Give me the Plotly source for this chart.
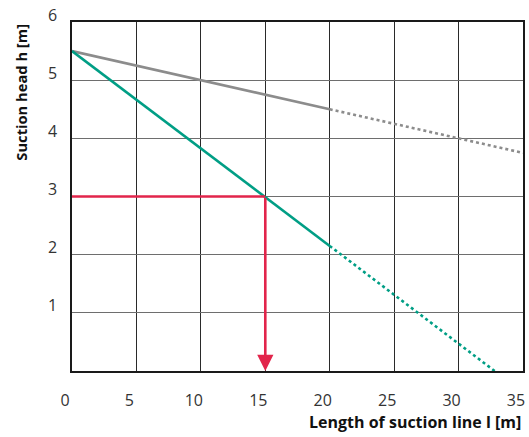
import plotly.graph_objects as go

# Data
grey_solid_len = [0, 20]
grey_solid_head = [5.5, 4.5]
grey_dot_len = [20, 35]
grey_dot_head = [4.5, 3.75]

green_solid_len = [0, 20]
green_solid_head = [5.5, 2.15]
green_dot_len = [20, 32.8]
green_dot_head = [2.15, 0]

reading_len = 15.0
reading_head = 3.0

x_ticks = [0, 5, 10, 15, 20, 25, 30, 35]
y_ticks = [1, 2, 3, 4, 5, 6]

GREY = "#8c8c8c"
GREEN = "#009e85"
RED = "#e2254b"
FONT = "Open Sans"

fig = go.Figure()

fig.add_trace(go.Scatter(x=grey_solid_len, y=grey_solid_head, mode="lines",
                         line=dict(color=GREY, width=2.6), hoverinfo="skip"))
fig.add_trace(go.Scatter(x=grey_dot_len, y=grey_dot_head, mode="lines",
                         line=dict(color=GREY, width=2.6, dash="dot"), hoverinfo="skip"))
fig.add_trace(go.Scatter(x=green_solid_len, y=green_solid_head, mode="lines",
                         line=dict(color=GREEN, width=2.6), hoverinfo="skip"))
fig.add_trace(go.Scatter(x=green_dot_len, y=green_dot_head, mode="lines",
                         line=dict(color=GREEN, width=2.6, dash="dot"), hoverinfo="skip"))
fig.add_trace(go.Scatter(x=[0, reading_len], y=[reading_head, reading_head], mode="lines",
                         line=dict(color=RED, width=2.6), hoverinfo="skip"))

fig.add_annotation(x=reading_len, y=0, ax=reading_len, ay=reading_head,
                   xref="x", yref="y", axref="x", ayref="y",
                   text="", showarrow=True, arrowhead=2, arrowsize=1.25,
                   arrowwidth=2.6, arrowcolor=RED, standoff=0)

fig.add_annotation(text="<b>Suction head h [m]</b>", textangle=-90,
                   xref="paper", yref="paper", x=-0.115, y=1.0,
                   xanchor="center", yanchor="top", showarrow=False,
                   font=dict(family=FONT, size=14.7, color="#111"))
fig.add_annotation(text="<b>Length of suction line l [m]</b>",
                   xref="paper", yref="paper", x=1.0, y=-0.146,
                   xanchor="right", yanchor="middle", showarrow=False,
                   font=dict(family=FONT, size=16, color="#111"))

fig.update_xaxes(range=[0, 35], tickvals=x_ticks, ticktext=[str(v) for v in x_ticks],
                 showgrid=True, gridcolor="#2a2a2a", gridwidth=1,
                 showline=True, linecolor="#1a1a1a", linewidth=1.5, mirror=True,
                 zeroline=False, ticks="", ticklabelstandoff=14, ticklabelshift=-7,
                 ticklabeloverflow="allow",
                 tickfont=dict(family=FONT, size=16, color="#333"))
fig.update_yaxes(range=[0, 6], tickvals=y_ticks, ticktext=[str(v) for v in y_ticks],
                 showgrid=True, gridcolor="#6e6e6e", gridwidth=1,
                 showline=True, linecolor="#1a1a1a", linewidth=1.5, mirror=True,
                 zeroline=False, ticks="", ticklabelstandoff=10, ticklabelshift=-7,
                 ticklabeloverflow="allow",
                 tickfont=dict(family=FONT, size=16, color="#333"))

fig.update_layout(width=529, height=437, showlegend=False,
                  margin=dict(l=72, r=4, t=8, b=66),
                  plot_bgcolor="white", paper_bgcolor="white")

# remove the page's default body margin so the figure fills the window exactly
fig.write_html("out.html", config={"displayModeBar": False},
               post_script="document.body.style.margin='0px';document.body.style.overflow='hidden';")
